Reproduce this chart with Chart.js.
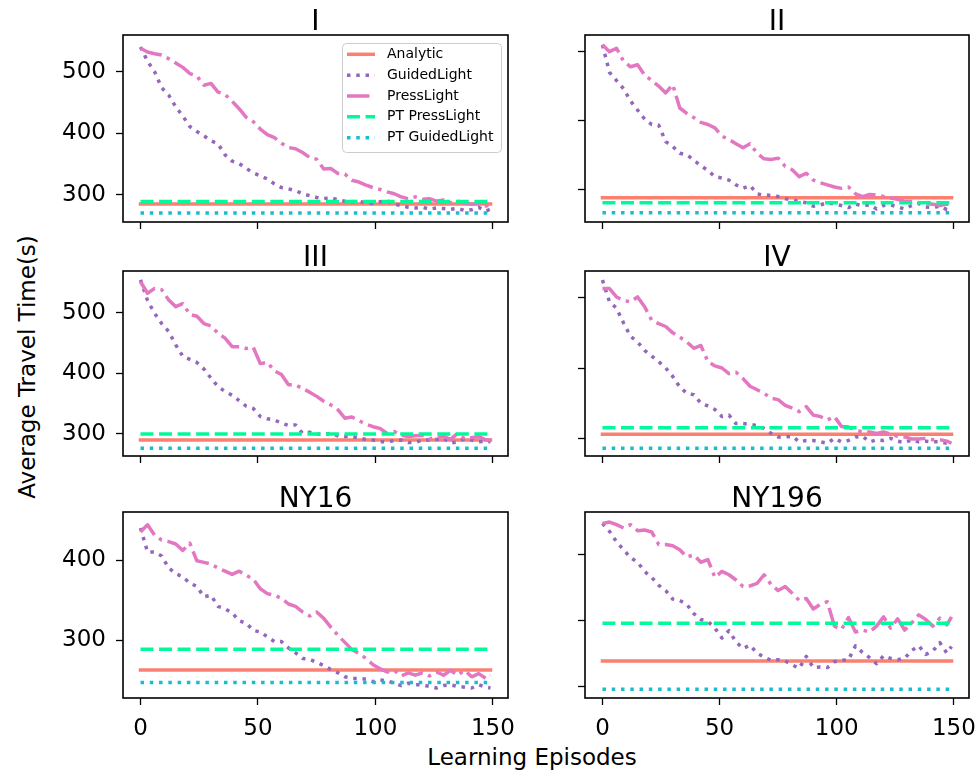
<!DOCTYPE html>
<html>
<head>
<meta charset="utf-8">
<script src="https://cdn.jsdelivr.net/npm/chart.js@4"></script>
<style>
  body { margin: 0; background: #fff; width: 980px; height: 770px; position: relative; overflow: hidden; font-family: "DejaVu Sans"; }
  canvas { position: absolute; }
  .axis-label { position: absolute; font-size: 23px; color: #000; white-space: nowrap; }
</style>
</head>
<body>
<div class="axis-label" style="left:27px; top:367px; transform:translate(-50%,-50%) rotate(-90deg);">Average Travel Time(s)</div>
<div class="axis-label" style="left:532px; top:757px; transform:translate(-50%,-50%);">Learning Episodes</div>
<script>
// episodes sampled from the curves (every 3rd episode + last)
const episodes = [0,3,6,9,12,15,18,21,24,27,30,33,36,39,42,45,48,51,54,57,60,63,66,69,72,75,78,81,84,87,90,93,96,99,102,105,108,111,114,117,120,123,126,129,132,135,138,141,144,147,149];
const xTicks = [0, 50, 100, 150];
const panelTitles = ["I", "II", "III", "IV", "NY16", "NY196"];
const legendNames = ["Analytic", "GuidedLight", "PressLight", "PT PressLight", "PT GuidedLight"];

const guidedI = [540,517,500,474,462,443,428,411,403,396,388,383,365,355,351,343,336,331,326,318,312,310,307,302,299,296,294,296,292,290,289,290,287,286,289,291,285,283,280,279,280,277,279,278,277,278,275,276,280,274,277];
const pressI = [538,532,529,527,521,514,507,497,493,478,481,467,463,452,440,426,419,407,398,393,384,377,375,369,361,358,342,343,335,334,324,321,316,312,309,305,302,297,294,297,293,294,290,292,287,290,287,285,286,282,284];
const guidedII = [510,470,458,446,428,415,402,394,393,369,362,352,350,342,334,327,318,316,313,306,301,305,293,291,291,289,286,284,282,280,275,277,280,278,276,273,278,276,277,271,276,277,274,271,276,279,274,273,275,270,272];
const pressII = [510,500,505,486,478,481,466,458,450,440,452,418,410,404,397,394,389,377,372,366,360,366,352,344,343,345,333,328,318,323,313,309,306,303,301,303,293,289,292,291,289,287,285,282,282,280,279,278,276,278,277];
const guidedIII = [554,520,499,482,469,447,428,423,418,407,392,378,370,364,355,346,342,329,325,323,318,314,315,301,303,300,299,301,297,296,296,293,291,290,287,287,289,290,286,286,290,290,291,293,285,287,292,290,287,288,287];
const pressIII = [551,532,540,538,521,510,515,497,494,482,478,466,458,444,444,441,443,416,418,404,398,381,381,375,369,362,354,348,340,326,328,322,316,312,309,301,304,298,296,297,298,292,294,296,291,301,292,294,296,290,290];
const guidedIV = [525,494,485,464,445,437,425,417,409,400,388,373,364,362,350,346,341,331,333,321,321,320,318,314,307,302,302,303,295,297,297,295,293,300,295,297,302,303,295,298,297,300,296,294,298,295,296,295,295,293,292];
const pressIV = [513,513,501,496,494,501,487,468,463,459,450,444,437,428,432,409,403,400,392,394,385,374,369,364,357,355,347,343,338,345,333,331,326,331,317,316,312,309,309,307,309,306,303,302,299,299,300,298,298,296,293];
const guidedNY16 = [440,410,410,405,390,383,379,371,367,354,356,342,339,334,324,321,312,310,304,298,298,290,284,277,276,272,268,263,259,254,252,252,251,248,250,249,246,243,246,244,244,242,240,243,244,242,241,240,244,241,240];
const pressNY16 = [435,444,431,425,423,420,412,421,399,397,395,390,386,382,386,381,376,364,358,356,352,345,342,335,330,335,327,316,306,297,288,283,277,269,264,260,262,255,259,256,259,255,260,256,262,256,262,254,258,252,256];
const guidedNY196 = [448,436,420,408,396,389,375,366,354,346,333,331,325,311,302,299,289,274,285,268,258,263,251,245,240,241,239,233,228,246,229,230,229,238,240,241,262,252,244,235,247,243,241,243,255,262,249,254,267,251,261];
const pressNY196 = [448,450,446,441,446,437,438,435,416,416,414,408,397,400,389,393,366,375,370,362,352,353,357,370,355,346,352,342,331,334,318,325,329,292,287,305,283,286,283,292,306,289,303,286,297,309,302,292,304,294,306];

// horizontal reference levels per panel
const analyticLevels = [285.4, 287.4, 290, 305.7, 262.5, 239];
const ptPressLevels = [289.3, 280, 300, 315, 288.3, 296.2];
const ptGuidedLevels = [271, 265.5, 276.4, 285.8, 247, 196];

const yTicks = [[300,400,500], [300,400,500], [300,400,500], [300,400,500], [300,400], [200,300,400]];
const yLimits = [[256.2,559.5], [252,524.3], [263.7,568.7], [274.9,537.9], [227.5,460], [182.8,465.3]];

const guidedSeries = [guidedI, guidedII, guidedIII, guidedIV, guidedNY16, guidedNY196];
const pressSeries = [pressI, pressII, pressIII, pressIV, pressNY16, pressNY196];

// layout of the 3x2 grid (plot frame edges in page pixels)
const colEdges = [[123, 508], [585, 969]];
const rowEdges = [[35, 222], [271, 456], [512, 698]];

const FONT = "DejaVu Sans";
const LW = 3.5;
const lineStyles = [
  { color: "#fa8072", dash: [], cap: "square" },
  { color: "#9467bd", dash: [LW, 1.65 * LW], cap: "butt" },
  { color: "#e377c2", dash: [6.4 * LW, 1.6 * LW, LW, 1.6 * LW], cap: "butt" },
  { color: "#00fa9a", dash: [3.7 * LW, 1.6 * LW], cap: "butt" },
  { color: "#17becf", dash: [LW, 1.65 * LW], cap: "butt" }
];

function toPoints(values) {
  return values.map((v, i) => ({ x: episodes[i], y: v }));
}

function flat(level) {
  return [{ x: 0, y: level }, { x: 149, y: level }];
}

function drawLegend(ctx, area) {
  const x0 = area.right - 166, y0 = area.top + 8, w = 159, h = 109;
  ctx.save();
  ctx.beginPath();
  ctx.roundRect(x0 + 0.5, y0 + 0.5, w, h, 4);
  ctx.fillStyle = "rgba(255,255,255,0.8)";
  ctx.fill();
  ctx.strokeStyle = "#cccccc";
  ctx.lineWidth = 1;
  ctx.stroke();
  ctx.font = "14px '" + FONT + "'";
  ctx.textBaseline = "middle";
  legendNames.forEach((name, i) => {
    const y = y0 + 11.3 + i * 20.85;
    const s = lineStyles[i];
    ctx.beginPath();
    ctx.setLineDash(s.dash);
    ctx.lineCap = s.cap === "square" ? "butt" : s.cap;
    ctx.strokeStyle = s.color;
    ctx.lineWidth = LW;
    ctx.moveTo(x0 + 5, y);
    ctx.lineTo(x0 + 33, y);
    ctx.stroke();
    ctx.setLineDash([]);
    ctx.fillStyle = "#000";
    ctx.fillText(name, x0 + 45, y);
  });
  ctx.restore();
}

const framePlugin = {
  id: "frame",
  afterDraw(chart) {
    const { ctx, chartArea: a } = chart;
    const opts = chart.options.plugins.frame;
    ctx.save();
    ctx.strokeStyle = "#000";
    ctx.lineWidth = 1.6;
    ctx.strokeRect(a.left, a.top, a.right - a.left, a.bottom - a.top);
    ctx.fillStyle = "#000";
    ctx.font = "28px '" + FONT + "'";
    ctx.textAlign = "center";
    ctx.textBaseline = "alphabetic";
    ctx.fillText(opts.title, (a.left + a.right) / 2, a.top - 5);
    ctx.restore();
    if (opts.legend) drawLegend(ctx, a);
  }
};

panelTitles.forEach((title, p) => {
  const row = Math.floor(p / 2), col = p % 2;
  const [fl, fr] = colEdges[col];
  const [ft, fb] = rowEdges[row];
  const padL = col === 0 ? 70 : 20, padT = 35, padR = 20, padB = 50;

  const canvas = document.createElement("canvas");
  canvas.width = fr - fl + padL + padR;
  canvas.height = fb - ft + padT + padB;
  canvas.style.left = (fl - padL) + "px";
  canvas.style.top = (ft - padT) + "px";
  document.body.appendChild(canvas);

  const seriesData = [
    flat(analyticLevels[p]),
    toPoints(guidedSeries[p]),
    toPoints(pressSeries[p]),
    flat(ptPressLevels[p]),
    flat(ptGuidedLevels[p])
  ];

  const datasets = seriesData.map((data, i) => ({
    label: legendNames[i],
    data: data,
    borderColor: lineStyles[i].color,
    borderWidth: LW,
    borderDash: lineStyles[i].dash,
    borderCapStyle: lineStyles[i].cap,
    borderJoinStyle: "round",
    pointRadius: 0,
    tension: 0,
    fill: false,
    order: 5 - i
  }));

  const gridOpts = {
    drawOnChartArea: false,
    drawTicks: true,
    tickLength: 7,
    tickColor: "#000",
    tickWidth: 1.3,
    color: "#000"
  };

  new Chart(canvas, {
    type: "line",
    data: { datasets },
    plugins: [framePlugin],
    options: {
      responsive: false,
      animation: false,
      devicePixelRatio: 1,
      layout: { padding: { top: padT, right: padR, left: 0, bottom: 0 } },
      plugins: {
        legend: { display: false },
        tooltip: { enabled: false },
        frame: { title: title, legend: p === 0 }
      },
      scales: {
        x: {
          type: "linear",
          min: -7.45,
          max: 156.45,
          afterBuildTicks: s => { s.ticks = xTicks.map(v => ({ value: v })); },
          afterFit: s => { s.height = padB; },
          grid: gridOpts,
          border: { display: false },
          ticks: {
            display: row === 2,
            autoSkip: false,
            maxRotation: 0,
            padding: 10,
            color: "#000",
            font: { family: FONT, size: 23 }
          }
        },
        y: {
          type: "linear",
          min: yLimits[p][0],
          max: yLimits[p][1],
          afterBuildTicks: s => { s.ticks = yTicks[p].map(v => ({ value: v })); },
          afterFit: s => { s.width = padL; },
          grid: gridOpts,
          border: { display: false },
          ticks: {
            display: col === 0,
            autoSkip: false,
            padding: 10,
            color: "#000",
            font: { family: FONT, size: 23 }
          }
        }
      }
    }
  });
});
</script>
</body>
</html>
